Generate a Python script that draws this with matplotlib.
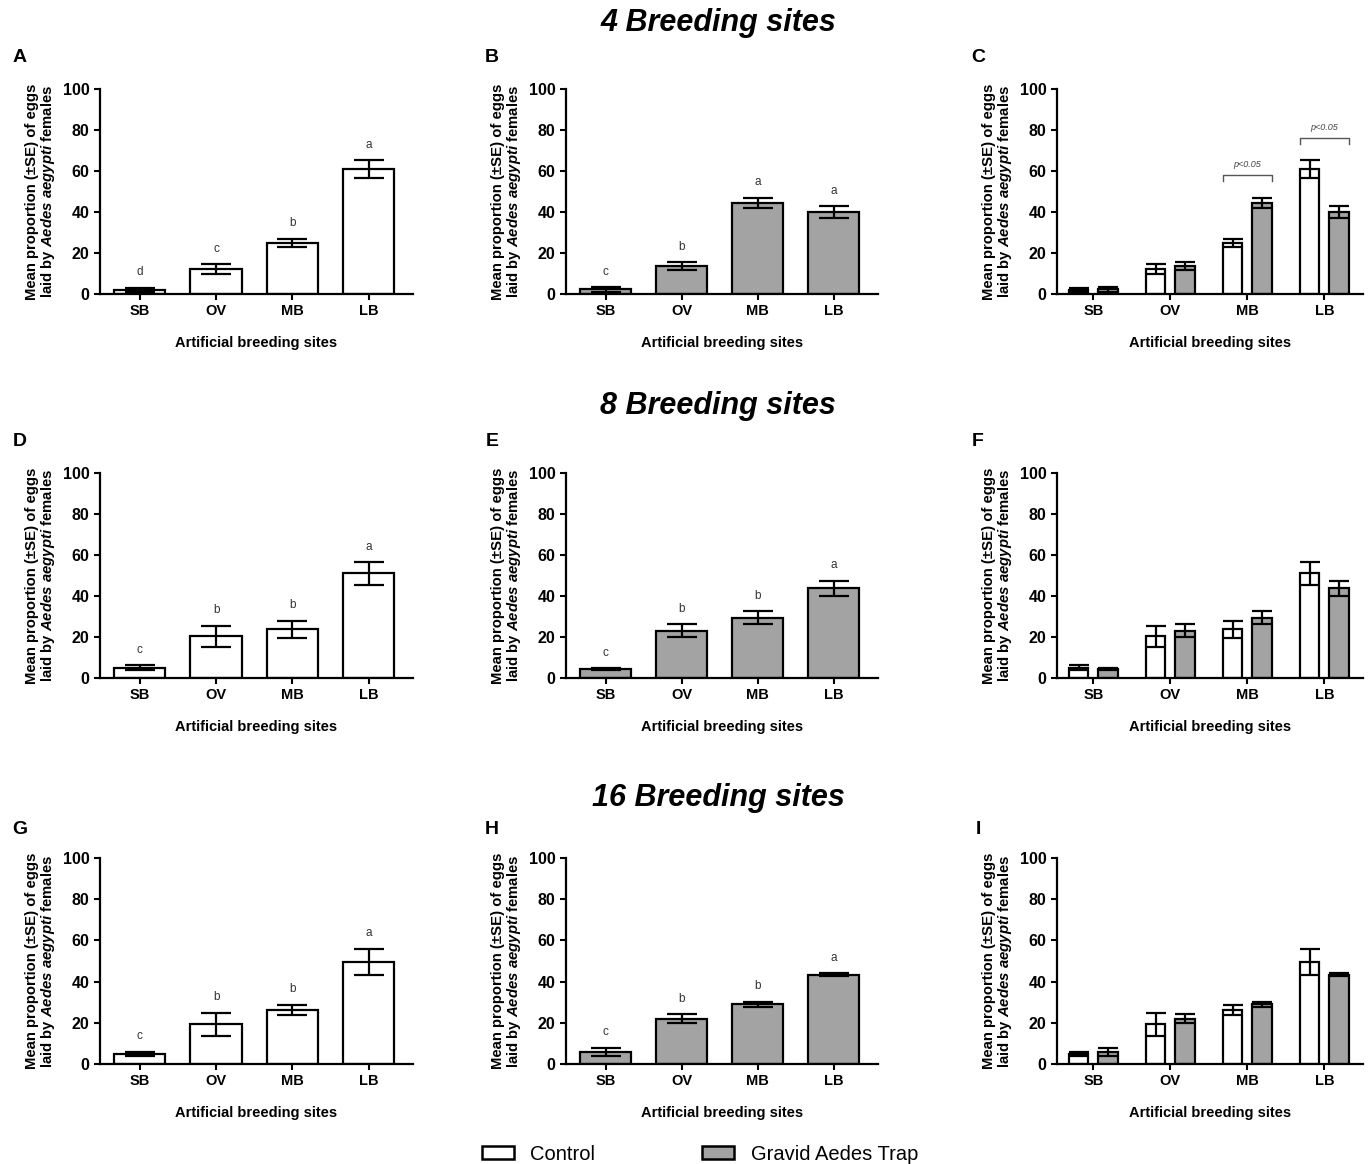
import matplotlib
matplotlib.use("Agg")
import matplotlib.pyplot as plt
from matplotlib.patches import Patch
import numpy as np

plt.rcParams['font.family'] = ['Liberation Sans', 'DejaVu Sans']
plt.rcParams['mathtext.fontset'] = 'custom'
plt.rcParams['mathtext.it'] = 'Liberation Sans:italic:bold'
plt.rcParams['mathtext.rm'] = 'Liberation Sans:bold'
plt.rcParams['mathtext.bf'] = 'Liberation Sans:bold'

# ---------------- data ----------------
categories = ['SB', 'OV', 'MB', 'LB']

ctrl4 = [2.0, 12.3, 24.8, 61.0]
ctrl4_se = [1.0, 2.3, 2.1, 4.2]
gat4 = [2.2, 13.5, 44.5, 40.0]
gat4_se = [1.0, 1.9, 2.5, 2.7]

ctrl8 = [5.0, 20.3, 23.7, 51.0]
ctrl8_se = [1.2, 5.3, 4.3, 5.5]
gat8 = [4.3, 23.0, 29.5, 43.7]
gat8_se = [0.5, 3.2, 3.2, 3.8]

ctrl16 = [5.0, 19.3, 26.2, 49.5]
ctrl16_se = [1.0, 5.5, 2.5, 6.5]
gat16 = [5.8, 22.0, 29.0, 43.3]
gat16_se = [2.0, 2.1, 1.2, 0.7]

letters_ctrl4 = ['d', 'c', 'b', 'a']
letters_gat4 = ['c', 'b', 'a', 'a']
letters_ctrl8 = ['c', 'b', 'b', 'a']
letters_gat8 = ['c', 'b', 'b', 'a']
letters_ctrl16 = ['c', 'b', 'b', 'a']
letters_gat16 = ['c', 'b', 'b', 'a']

sig_pairs_4 = ['MB', 'LB']
sig_label = 'p<0.05'

row_titles = ['4 Breeding sites', '8 Breeding sites', '16 Breeding sites']
panel_letters = [['A', 'B', 'C'], ['D', 'E', 'F'], ['G', 'H', 'I']]

CTRL_COLOR = 'white'
GAT_COLOR = '#a3a3a3'

W, H = 1371, 1164
fig = plt.figure(figsize=(W / 100, H / 100), dpi=100)

col_lr = [(100, 413), (566, 878), (1057, 1363)]
row_tb = [(89, 294), (473, 678), (858, 1064)]
title_y = [23, 406, 798]
letter_y = [57, 441, 829]
letter_x = [20, 492, 978]

ylabel = 'Mean proportion (±SE) of eggs\nlaid by $\\mathit{Aedes\\ aegypti}$ females'


def make_ax(r, c):
    l, rr = col_lr[c]
    t, b = row_tb[r]
    ax = fig.add_axes([l / W, 1 - b / H, (rr - l) / W, (b - t) / H])
    ax.spines['top'].set_visible(False)
    ax.spines['right'].set_visible(False)
    for s in ['left', 'bottom']:
        ax.spines[s].set_linewidth(1.6)
    ax.set_ylim(0, 100)
    ax.set_yticks([0, 20, 40, 60, 80, 100])
    ax.tick_params(axis='both', direction='out', length=4, width=1.5)
    for lab in ax.get_yticklabels():
        lab.set_fontweight('bold')
        lab.set_fontsize(11.5)
    ax.set_xticks(range(len(categories)))
    ax.set_xticklabels(categories, fontsize=10.5, fontweight='bold')
    ax.tick_params(axis='x', pad=3)
    ax.set_ylabel(ylabel, fontsize=10.7, fontweight='bold', labelpad=4, linespacing=1.05)
    ax.set_xlabel('Artificial breeding sites', fontsize=10.5, fontweight='bold', labelpad=13)
    return ax


def single_panel(ax, vals, se, letters, color):
    x = np.arange(len(categories))
    ax.bar(x, vals, width=0.67, color=color, edgecolor='black', linewidth=1.6, zorder=2)
    ax.errorbar(x, vals, yerr=se, fmt='none', ecolor='black', elinewidth=1.6,
                capsize=11, capthick=1.6, zorder=3)
    for xi, v, e, lt in zip(x, vals, se, letters):
        ax.text(xi, v + e + 7.5, lt, ha='center', va='center', fontsize=8.5, color='#333333')
    ax.set_xlim(-0.52, 3.58)


def grouped_panel(ax, c_vals, c_se, g_vals, g_se, sig=None):
    x = np.arange(len(categories))
    off, w = 0.19, 0.25
    ax.bar(x - off, c_vals, width=w, color=CTRL_COLOR, edgecolor='black', linewidth=1.6, zorder=2)
    ax.bar(x + off, g_vals, width=w, color=GAT_COLOR, edgecolor='black', linewidth=1.6, zorder=2)
    ax.errorbar(x - off, c_vals, yerr=c_se, fmt='none', ecolor='black', elinewidth=1.6,
                capsize=7, capthick=1.6, zorder=3)
    ax.errorbar(x + off, g_vals, yerr=g_se, fmt='none', ecolor='black', elinewidth=1.6,
                capsize=7, capthick=1.6, zorder=3)
    ax.set_xlim(-0.47, 3.5)
    if sig:
        for cat in sig:
            i = categories.index(cat)
            top = max(c_vals[i] + c_se[i], g_vals[i] + g_se[i])
            yb = top + 11
            x0, x1 = i - off - w / 2, i + off + w / 2
            ax.plot([x0, x0, x1, x1], [yb - 3, yb, yb, yb - 3], color='#555555', lw=1.0,
                    clip_on=False, zorder=4)
            ax.text(i, yb + 5, sig_label, ha='center', va='center', fontsize=6.5,
                    style='italic', color='#444444')


data = [
    (ctrl4, ctrl4_se, gat4, gat4_se, letters_ctrl4, letters_gat4, sig_pairs_4),
    (ctrl8, ctrl8_se, gat8, gat8_se, letters_ctrl8, letters_gat8, None),
    (ctrl16, ctrl16_se, gat16, gat16_se, letters_ctrl16, letters_gat16, None),
]

for r, (cv, cs, gv, gs, lc, lg, sig) in enumerate(data):
    ax = make_ax(r, 0)
    single_panel(ax, cv, cs, lc, CTRL_COLOR)
    ax = make_ax(r, 1)
    single_panel(ax, gv, gs, lg, GAT_COLOR)
    ax = make_ax(r, 2)
    grouped_panel(ax, cv, cs, gv, gs, sig)
    fig.text(718 / W, 1 - title_y[r] / H, row_titles[r], ha='center', va='center',
             fontsize=22, fontweight='bold', style='italic')
    for c in range(3):
        fig.text(letter_x[c] / W, 1 - letter_y[r] / H, panel_letters[r][c], ha='center',
                 va='center', fontsize=14, fontweight='bold')

handles = [Patch(facecolor=CTRL_COLOR, edgecolor='black', linewidth=1.8, label='Control'),
           Patch(facecolor=GAT_COLOR, edgecolor='black', linewidth=1.8, label='Gravid Aedes Trap')]
fig.legend(handles=handles, loc='center', bbox_to_anchor=(700 / W, 1 - 1154 / H), ncol=2,
           frameon=False, fontsize=14.5, handlelength=1.6, handleheight=0.6,
           columnspacing=5.3, handletextpad=0.8)

fig.savefig('out.png', dpi=100)
